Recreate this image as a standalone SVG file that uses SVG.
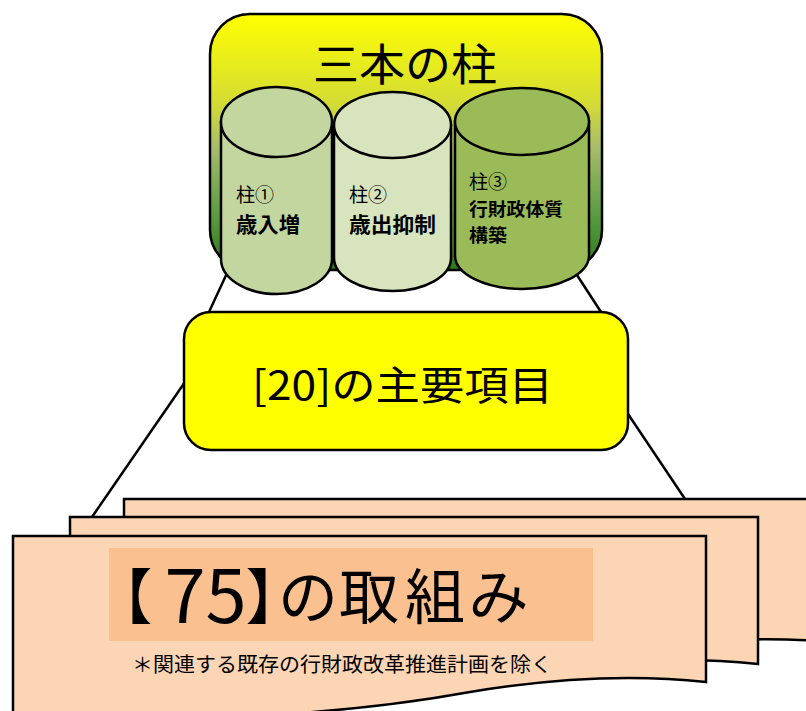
<svg xmlns="http://www.w3.org/2000/svg" width="806" height="711" viewBox="0 0 806 711">
<defs>
<linearGradient id="gTop" x1="0" y1="0" x2="0" y2="1">
<stop offset="0" stop-color="#ffff00"/>
<stop offset="0.35" stop-color="#d4dc34"/>
<stop offset="0.52" stop-color="#a8bc6c"/>
<stop offset="0.75" stop-color="#64a048"/>
<stop offset="1" stop-color="#2a7a1c"/>
</linearGradient>
<style>
.ln{stroke:#000;stroke-width:2.5;fill:none}
.sh{stroke:#000;stroke-width:2.5}
.jp{font-family:"Noto Sans CJK JP","Noto Sans",sans-serif;fill:#000}
.lb{font-size:19px}
.bd{font-weight:bold}
.big{font-size:60px;text-anchor:middle;font-feature-settings:"palt"}
</style>
</defs>
<rect width="806" height="711" fill="#ffffff"/>
<g id="connectors">
<line class="ln" x1="228" y1="271" x2="209" y2="312"/>
<line class="ln" x1="196" y1="366" x2="92" y2="517"/>
<line class="ln" x1="575" y1="272" x2="601" y2="312"/>
<line class="ln" x1="620" y1="402" x2="685" y2="499"/>
</g>
<g id="pillars-box">
<rect class="sh" x="210" y="14" width="392" height="256" rx="40" fill="url(#gTop)"/>
<text class="jp" x="313" y="81" font-size="44" textLength="184" lengthAdjust="spacingAndGlyphs">三本の柱</text>
</g>
<g id="pillar1">
<path class="sh" fill="#c4d6a0" d="M221,122 V259 A55.5,35 0 0 0 332,259 V122 Z"/>
<ellipse class="sh" cx="276.5" cy="122" rx="55.5" ry="35" fill="#c4d6a0"/>
<text class="jp lb" x="236" y="202">柱①</text>
<text class="jp bd" x="236" y="232" font-size="21" textLength="64" lengthAdjust="spacingAndGlyphs">歳入増</text>
</g>
<g id="pillar2">
<path class="sh" fill="#d7e4bd" d="M334,125 V258 A58.5,33 0 0 0 451,258 V125 Z"/>
<ellipse class="sh" cx="392.5" cy="125" rx="58.5" ry="33" fill="#d7e4bd"/>
<text class="jp lb" x="349" y="202">柱②</text>
<text class="jp bd" x="349" y="232" font-size="21" textLength="87" lengthAdjust="spacingAndGlyphs">歳出抑制</text>
</g>
<g id="pillar3">
<path class="sh" fill="#9bbb59" d="M455,121.5 V255.5 A67,33.5 0 0 0 589,255.5 V121.5 Z"/>
<ellipse class="sh" cx="522" cy="121.5" rx="67" ry="33.5" fill="#9bbb59"/>
<text class="jp lb" x="469" y="189">柱③</text>
<text class="jp bd" x="469" y="216" font-size="18.5" textLength="94" lengthAdjust="spacingAndGlyphs">行財政体質</text>
<text class="jp bd" x="469" y="242" font-size="18.5" textLength="38" lengthAdjust="spacingAndGlyphs">構築</text>
</g>
<g id="items-box">
<rect class="sh" x="184" y="312" width="444" height="138" rx="27" fill="#ffff00"/>
<text class="jp" x="252" y="400" font-size="40" textLength="301" lengthAdjust="spacingAndGlyphs">[20]の主要項目</text>
</g>
<g id="paper-back">
<path class="sh" fill="#fcd5b4" d="M124,499 H830 V642 C760,636 690,640 600,654 C480,674 320,688 124,676 Z"/>
</g>
<g id="paper-middle">
<path class="sh" fill="#fcd5b4" d="M70,517 H758 V664 C692,657 612,659 522,674 C412,694 252,707 70,694 Z"/>
</g>
<g id="paper-front">
<path class="sh" fill="#fcd5b4" d="M13,536 H706 V682 C640,675 560,677 470,692 C360,712 200,726 13,714 Z"/>
<rect x="109" y="548" width="484" height="93" fill="#fac090"/>
<text class="jp big" y="619"><tspan x="136">【</tspan><tspan x="185" font-size="74" y="623">7</tspan><tspan x="226" font-size="74" y="623">5</tspan><tspan x="262" y="619">】</tspan><tspan x="308">の</tspan><tspan x="369">取</tspan><tspan x="435">組</tspan><tspan x="498">み</tspan></text>
<text class="jp" x="132" y="672" font-size="20" textLength="420" lengthAdjust="spacingAndGlyphs">＊関連する既存の行財政改革推進計画を除く</text>
</g>
</svg>
